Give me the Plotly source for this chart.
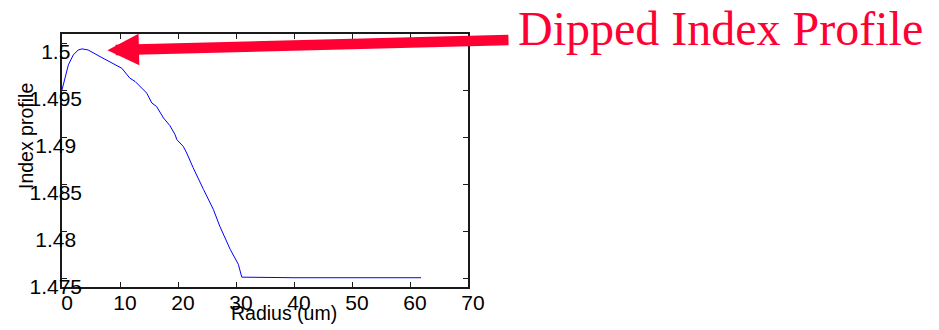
import plotly.graph_objects as go

# Data
radius_um = [0.0, 1.1, 1.95, 2.8, 3.45, 4.5, 6.55, 9.4, 10.3, 11.7, 12.6, 14.6, 15.5, 16.3,
             17.5, 18.6, 19.5, 19.8, 20.9, 21.5, 22.6, 24.4, 26.1, 27.2, 29.0, 30.4, 31.0,
             40.0, 50.0, 61.9]
index_profile = [1.4951, 1.49777, 1.49883, 1.49936, 1.49947, 1.49936, 1.49865, 1.49777,
                 1.49741, 1.49635, 1.49600, 1.49476, 1.49369, 1.49333, 1.49210, 1.49129,
                 1.49032, 1.48979, 1.48907, 1.48837, 1.48681, 1.48447, 1.48234, 1.48056,
                 1.47809, 1.47649, 1.47512, 1.47506, 1.47506, 1.47506]

x_ticks = [0, 10, 20, 30, 40, 50, 60, 70]
y_ticks = [1.475, 1.48, 1.485, 1.49, 1.495, 1.5]
y_tick_labels = ["1.475", "1.48", "1.485", "1.49", "1.495", "1.5"]
x_title = "Radius (um)"
y_title = "Index profile"
callout_text = "Dipped Index Profile"
callout_tip = (7.84, 1.49933)

NB = "\u00a0"
pad = {5: "", 4: NB, 3: NB * 2}
y_tick_text = [t + pad.get(len(t), "") for t in y_tick_labels]

RED = "#FF0033"
SANS = "Arial, Liberation Sans, sans-serif"

fig = go.Figure()
fig.add_trace(go.Scatter(x=radius_um, y=index_profile, mode="lines",
                         line=dict(color="#0000FF", width=1), showlegend=False))

axis_common = dict(showline=True, linecolor="#1a1a1a", linewidth=1.5, mirror="ticks",
                   ticks="inside", ticklen=5, tickcolor="#1a1a1a", tickwidth=1.2,
                   showgrid=False, zeroline=False, automargin=False,
                   tickfont=dict(family=SANS, size=21, color="#000000"))

fig.update_layout(
    width=939, height=330,
    margin=dict(l=54, r=479, t=26, b=51, pad=0),
    paper_bgcolor="white", plot_bgcolor="white",
    xaxis=dict(range=[0, 70], tickvals=x_ticks, ticktext=[str(v) for v in x_ticks],
               ticklabelshift=5, ticklabelstandoff=-4, **axis_common),
    yaxis=dict(range=[1.47407, 1.50106], tickvals=y_ticks, ticktext=y_tick_text,
               ticklabelshift=8, ticklabelstandoff=-26, **axis_common),
    annotations=[
        dict(x=callout_tip[0], y=callout_tip[1], xref="x", yref="y", text="",
             showarrow=True, arrowhead=2, arrowsize=0.6, arrowwidth=10.5,
             arrowcolor=RED, ax=402.5, ay=-10.3, standoff=0),
        dict(x=(516 - 62) / 406, y=1.020, xref="paper", yref="paper",
             text=callout_text, showarrow=False, xanchor="left", yanchor="middle",
             font=dict(family="Times New Roman, Liberation Serif, serif", size=48, color=RED)),
        dict(x=(26 - 62) / 406, y=(287 - 136) / 253, xref="paper", yref="paper",
             text=y_title, showarrow=False, textangle=-90, xanchor="center", yanchor="middle",
             font=dict(family=SANS, size=19.5, color="#000000")),
        dict(x=(284 - 62) / 406, y=(287 - 313) / 253, xref="paper", yref="paper",
             text=x_title, showarrow=False, xanchor="center", yanchor="middle",
             font=dict(family=SANS, size=19.5, color="#000000")),
    ],
)

fig.write_html("out.html")
